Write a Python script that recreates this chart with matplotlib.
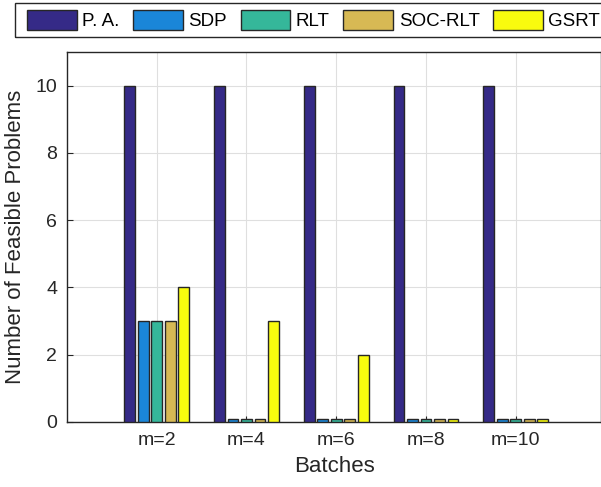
import numpy as np
import matplotlib
matplotlib.use("Agg")
import matplotlib.pyplot as plt
from matplotlib.patches import Rectangle

plt.rcParams['font.family'] = ['Liberation Sans', 'DejaVu Sans']

# data
batches = ["m=2", "m=4", "m=6", "m=8", "m=10"]
methods = ["P. A.", "SDP", "RLT", "SOC-RLT", "GSRT"]
pa = [10, 10, 10, 10, 10]
sdp = [3, 0.1, 0.1, 0.1, 0.1]
rlt = [3, 0.1, 0.1, 0.1, 0.1]
socrlt = [3, 0.1, 0.1, 0.1, 0.1]
gsrt = [4, 3, 2, 0.1, 0.1]
colors = ["#352a87", "#1a86d8", "#35b79a", "#d7b954", "#f9fb0e"]

series = [pa, sdp, rlt, socrlt, gsrt]

fig = plt.figure(figsize=(6.01, 4.87), dpi=100)
ax = fig.add_axes([67/601, 65/487, 534/601, 370/487])

x = np.arange(1, len(batches) + 1)
slot = 0.15
bw = 0.12
bars = []
for i, (vals, c) in enumerate(zip(series, colors)):
    b = ax.bar(x + (i - 2) * slot, vals, width=bw, color=c, edgecolor="#262626",
               linewidth=1.0, zorder=3, label=methods[i])
    bars.append(b)

ax.set_xlim(0, 5.95)
ax.set_ylim(0, 11)
ax.set_xticks(x)
ax.set_xticklabels(batches)
ax.set_yticks([0, 2, 4, 6, 8, 10])
ax.grid(True, color="#dfdfdf", linewidth=0.8, zorder=0)
ax.tick_params(direction="in", length=4, labelsize=14, colors="#262626", pad=7)
for s in ax.spines.values():
    s.set_color("#262626")
    s.set_linewidth(1.0)

ax.set_xlabel("Batches", fontsize=16, color="#262626", labelpad=5)
ax.set_ylabel("Number of Feasible Problems", fontsize=16, color="#262626", labelpad=7)

# legend box runs past the right edge of the picture
fig.patches.append(Rectangle((15/601, 1 - 37/487), 620/601, 34/487,
                             transform=fig.transFigure, fill=False,
                             edgecolor="#262626", linewidth=1.0))
leg = fig.legend(handles=bars, labels=methods, loc="upper left",
                 bbox_to_anchor=(27/601, 1 - 10/487), ncol=5, fontsize=13.5,
                 frameon=False, handlelength=2.65, handleheight=1.25,
                 handletextpad=0.3, columnspacing=0.72, borderpad=0,
                 borderaxespad=0)

fig.savefig("out.png", dpi=100)
